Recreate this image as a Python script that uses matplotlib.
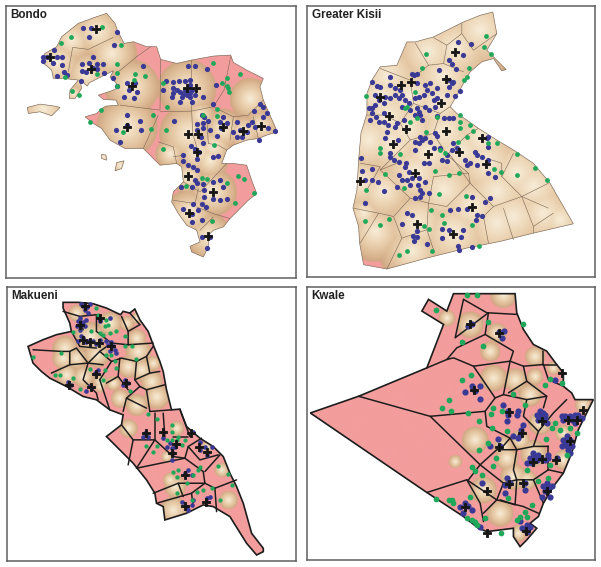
#!/usr/bin/env python3
# -*- coding: utf-8 -*-

import numpy as np
import matplotlib as mpl
mpl.use('Agg')
from matplotlib import pyplot as plt
from matplotlib.path import Path
from matplotlib.patches import PathPatch
from matplotlib.colors import LinearSegmentedColormap

plt.rcParams['font.family'] = ['Liberation Sans', 'DejaVu Sans']

bondo_shape = [[(320,40),(345,70),(352,90),(372,130),(400,125),(440,140),(470,140),(482,178),(530,190),(575,180),(640,168),(692,165),(700,187),(740,210),(790,235),(780,260),(790,300),(810,345),(832,395),(800,405),(775,415),(740,420),(700,435),(680,450),(665,490),(700,490),(740,495),(755,540),(770,580),(745,600),(720,625),(690,655),(670,680),(640,690),(625,705),(625,740),(610,770),(575,755),(570,738),(600,725),(590,690),(560,675),(535,640),(515,605),(520,575),(550,545),(545,500),(530,490),(480,495),(430,445),(375,445),(330,420),(305,385),(280,370),(255,350),(290,340),(305,325),(318,318),(355,315),(348,300),(310,298),(295,285),(335,272),(358,262),(345,245),(330,232),(340,212),(300,232),(268,248),(262,258),(240,240),(245,265),(225,295),(208,295),(210,270),(235,240),(190,235),(160,235),(155,210),(125,185),(135,160),(170,140),(185,110),(235,70),(290,50)],
               [(82,322),(120,312),(165,318),(180,322),(155,347),(120,335),(85,340)],
               [(305,462),(318,465),(320,480),(305,475)],
               [(350,487),(372,482),(365,505),(345,512)]]
bondo_cells = [[(340,112),(265,148),(218,142),(205,215)],[(452,140),(410,170),(355,215)],[(482,178),(480,330),(360,315)],
               [(480,335),(575,333),(640,320),(672,270),(692,170)],[(575,180),(575,333),(578,400),(590,440)],[(475,345),(430,445)],
               [(475,425),(520,440),(530,490)],[(640,320),(700,350),(745,345),(790,300)],[(700,350),(690,420)],[(760,350),(775,415)],
               [(625,430),(655,435),(680,450)],[(625,430),(620,350)],[(550,545),(600,575),(680,490)],[(595,565),(585,610),(520,600)],
               [(590,620),(640,640),(690,655)],[(600,690),(640,650)],[(520,470),(550,465)]]
bondo_glow = [(170,185,80),(215,120,70),(290,95,85),(335,160,75),(260,220,70),(395,260,82),(560,265,88),(380,380,92),(565,400,88),(668,385,60),(730,395,50),
              (750,295,62),(783,377,50),(590,456,65),(640,440,55),(510,460,45),(563,530,50),(638,576,72),(567,637,70),(625,708,70),(630,480,55),
              (130,325,80),(360,495,30),(310,470,20),(220,280,30),(600,345,45)]
bondo_blue = [(248,83),(272,83),(268,110),(350,97),(343,135),(280,172),(161,150),(172,170),(186,170),(130,170),(128,182),(140,172),(160,188),(185,195),(192,217),(200,225),(170,228),(245,192),(245,212),(268,190),(290,193),(310,193),(258,215),(290,208),(312,218),(280,205),(242,242),(340,235),(352,258),
              (430,197),(380,250),(405,248),(388,270),(412,275),(372,292),(403,295),(380,345),(420,362),(422,390),(348,390),(360,425),(380,375),
              (565,198),(585,198),(620,208),(497,243),(520,245),(538,243),(555,243),(570,240),(490,270),(520,265),(530,270),(520,280),(540,275),(555,270),(570,255),(575,270),(515,290),(545,290),(560,285),(570,290),(585,285),(575,305),(610,290),(540,307),(570,280),(550,283),(565,275),(648,255),(640,312),(522,362),
              (668,352),(660,365),(680,370),(662,385),(605,345),(612,350),(592,372),(610,368),(625,362),(610,385),(590,390),(602,410),(652,408),(630,390),(712,365),(745,375),(698,397),(720,390),(712,412),(725,412),(740,395),(762,332),(780,312),(790,320),(800,338),(790,352),(755,367),(765,380),(805,385),(825,393),(777,420),
              (572,437),(585,445),(598,455),(610,428),(590,475),(550,465),(548,482),(565,495),(580,500),(590,510),(640,470),(655,468),(542,560),(575,560),(590,548),(585,540),(610,550),(612,570),(640,545),(660,540),(668,560),(612,590),(640,597),(660,600),(682,595),(605,610),(618,620),(578,610),(595,628),(550,625),(575,640),(575,665),(607,658),(622,742),(605,710),(630,710)]
bondo_green = [(305,80),(183,128),(212,112),(363,135),(350,193),(350,218),(405,222),(435,228),(403,240),(290,222),(195,232),(215,273),(238,285),(352,258),(640,188),(682,235),(665,250),(720,223),(488,250),(680,258),(685,265),(688,275),(500,320),(303,330),(270,367),(458,345),(452,388),(498,390),(368,395),(490,447),(652,328),(652,348),(608,345),(642,433),(713,528),(733,535),(682,548),(763,578),(705,608),(637,663),(605,532),(620,537),(557,558)]
bondo_cross = [(288,87),(150,172),(272,207),(395,258),(562,263),(588,263),(380,380),(563,403),(595,403),(668,380),(730,393),(783,377),(590,456),(563,528),(638,576),(567,637),(625,708)]

kisii_shape = [[(578,35),(590,100),(560,150),(618,208),(605,212),(580,175),(545,185),(510,215),(490,250),(465,295),(450,320),(470,340),(500,360),(535,385),(590,420),(640,450),(700,490),(750,550),(820,672),(700,700),(600,725),(500,745),(380,775),(260,808),(190,795),(178,730),(175,680),(158,625),(170,570),(175,480),(182,400),(200,340),(200,280),(215,240),(240,200),(290,195),(320,125),(345,125),(400,110),(490,65),(540,45)]]
kisii_cells = [[(485,70),(485,100),(520,150),(590,100)],[(400,112),(440,135),(485,100)],[(440,135),(430,190),(490,215)],[(345,128),(385,195),(430,190)],
               [(240,205),(330,240),(385,195)],[(330,240),(340,310),(300,370),(255,345),(200,345)],[(340,310),(420,340),(450,320)],[(300,370),(330,420),(270,480),(240,510)],
               [(420,340),(400,400),(440,465)],[(330,420),(400,400)],[(180,490),(240,500),(200,570)],[(240,510),(290,490)],[(240,510),(330,595),(280,650),(235,640),(160,625)],
               [(235,640),(180,730)],[(280,650),(305,715),(260,808)],[(305,715),(380,690)],[(330,595),(385,610),(380,690),(400,750)],[(385,610),(440,620),(510,550),(450,465)],
               [(400,530),(385,610)],[(400,530),(505,520),(510,550)],[(510,550),(580,620),(550,650),(565,730)],[(580,620),(665,590),(700,680),(700,700)],[(700,680),(760,640)],
               [(610,625),(640,720)],[(665,590),(745,550)],[(665,590),(605,530),(640,460)],[(665,590),(745,625)],[(505,520),(440,465),(500,405),(535,385)],[(560,475),(605,490),(605,530)]]
kisii_glow = [(540,90,130),(465,145,130),(385,155,130),(430,230,130),(260,230,130),(330,290,130),(240,290,130),(420,310,130),(265,350,130),(205,420,130),(320,390,130),(435,395,130),(275,430,130),(385,460,130),(480,455,130),(545,415,130),(560,490,130),(345,518,130),(180,545,100),(250,575,100),(430,570,130),(515,620,130),(590,575,130),(650,520,130),(700,560,130),(640,650,130),(590,670,130),(730,640,120),(350,670,120),(225,695,92),(460,700,130),(335,755,100),(600,125,90),(780,660,90),(190,640,60)]
kisii_blue = [(475,125),(513,132),(490,165),(447,180),(455,190),(468,207),(415,210),(350,220),(335,222),(268,232),(215,247),(230,258),(240,262),(225,285),(235,300),(270,255),(285,265),(300,270),(285,285),(305,285),(295,295),(270,295),(255,290),(250,310),(225,315),(215,325),(207,323),(215,340),(210,360),(228,350),(235,365),(250,340),(250,365),(262,375),(285,380),(290,370),(310,360),(260,395),(253,415),(292,420),(268,460),(268,470),(280,480),(297,487),(317,490),(315,500),(325,515),(295,525),(305,540),(320,540),(335,535),(355,535),(375,545),(290,560),(330,555),(352,555),(358,570),(365,580),(345,595),(358,590),(386,580),(320,640),(335,645),(305,672),(350,695),(338,710),(350,712),(340,725),(380,732),(425,688),(445,690),(425,715),(450,630),(475,628),(500,628),(530,645),(545,648),(527,660),(555,605),(570,595),(515,590),(490,690),(482,712),(475,738),(478,752),(517,743),(183,475),(185,512),(215,508),(195,540),(215,540),(233,547),(250,573),(195,608),
              (340,225),(350,250),(375,255),(388,250),(410,265),(380,270),(395,280),(355,290),(345,295),(370,285),(400,300),(315,300),(325,310),(305,320),(330,330),(350,325),(375,320),(385,330),(405,320),(410,295),(440,285),(465,288),(480,272),(445,262),(455,250),(445,240),(460,245),(410,348),(355,335),(360,345),(365,360),(345,345),(430,355),(445,355),(460,355),(405,400),(410,407),(360,410),(375,415),(345,425),(355,430),(365,420),(345,450),(390,425),(400,445),(420,445),(425,480),(440,483),(385,490),(370,490),(440,465),(455,450),(460,430),(470,445),(525,455),(495,480),(500,495),(530,465),(545,470),(510,490),(530,495),(560,415),(565,410),(565,440),(565,480),(565,520),(585,530)]
kisii_green = [(378,162),(558,106),(552,140),(573,160),(365,203),(508,202),(500,232),(492,240),(198,288),(345,275),(320,322),(315,325),(330,365),(350,355),(480,345),(480,365),(480,385),(510,375),(520,392),(500,410),(475,427),(565,430),(590,430),(378,397),(410,350),(240,443),(240,460),(300,463),(420,450),(435,460),(652,463),(705,503),(740,540),(650,525),(603,517),(582,508),(405,513),(447,525),(477,520),(255,522),(198,570),(310,563),(415,582),(497,588),(393,630),(425,647),(432,670),(193,665),(240,675),(265,657),(515,675),(372,678),(385,688),(320,753),(296,765),(395,755),(537,740)]
kisii_cross = [(465,155),(437,236),(333,245),(303,256),(240,290),(422,310),(265,347),(317,388),(436,393),(277,432),(383,462),(478,456),(546,415),(558,492),(345,518),(180,543),(515,620),(350,673),(460,703)]

makueni_shape = [[(190,58),(235,58),(280,62),(320,75),(362,95),(370,85),(390,90),(405,78),(420,110),(445,145),(460,185),(480,235),(490,265),(500,320),(515,380),(540,378),(560,430),(600,465),(640,490),(670,520),(690,570),(710,610),(730,660),(755,750),(790,795),(790,805),(770,815),(740,780),(690,700),(640,670),(610,665),(560,690),(495,710),(490,670),(470,660),(465,630),(440,590),(400,540),(320,460),(365,425),(370,395),(330,380),(290,350),(250,340),(200,310),(150,285),(125,265),(100,240),(85,190),(130,170),(170,155),(215,145),(210,120),(190,75)]]
makueni_cells = [[(100,200),(185,205),(210,205),(230,195),(265,240)],[(210,205),(210,245),(155,270)],[(210,245),(265,240),(310,245)],[(265,240),(250,290),(290,330),(295,350)],
                 [(300,290),(330,380)],[(300,290),(335,235),(365,225),(410,235),(405,290),(420,310),(380,345),(370,385)],[(380,345),(440,375)],[(440,320),(495,305)],[(440,320),(450,385)],
                 [(420,310),(440,320)],[(405,290),(450,270),(480,265)],[(450,270),(440,220),(460,190)],[(410,235),(440,220)],[(385,185),(460,180)],[(385,185),(385,145),(420,125)],[(365,100),(385,145)],[(390,90),(420,125)],
                 [(360,225),(355,280),(320,300)],[(355,280),(385,320)],[(300,205),(335,235)],[(240,190),(290,195)],[(335,180),(300,205),(265,240)],[(240,100),(250,140)],[(190,85),(240,100),(290,95),(290,145)],[(215,145),(240,190)],[(290,145),(335,180),(385,185)],
                 [(450,385),(515,380)],[(465,390),(465,470)],[(490,390),(495,460)],[(365,425),(400,470),(385,545)],[(400,470),(465,470),(410,555)],[(410,555),(555,525)],[(465,470),(520,520),(555,525),(610,565),(615,600),(535,600),(460,630)],
                 [(535,600),(550,640)],[(470,660),(575,630),(615,600)],[(575,630),(580,670)],[(615,600),(645,615),(650,685)],[(645,615),(710,590)],[(615,565),(660,515)],[(555,525),(565,490),(600,530),(655,515)],[(565,490),(605,465)],[(540,378),(570,460)],[(520,460),(565,460)]]
makueni_glow = [(195,195,38),(190,225,33),(230,225,33),(290,215,38),(200,275,33),(250,280,33),(385,250,33),(425,260,33),(455,295,33),(470,340,38),(360,345,28),(410,365,33),(415,205,38),(410,165,28),(380,120,22),(410,105,17),(230,90,25),(270,160,45),(330,120,35),(385,435,28),(530,435,22),(500,520,17),(665,560,22),(685,650,28),(525,610,33),(510,590,22),(520,680,40),(300,310,17),(300,295,22),(340,300,22),(460,240,22),(620,490,17)]
makueni_blue = [(245,62),(270,62),(255,80),(235,115),(245,125),(240,140),(260,110),(255,130),(265,90),(300,110),(330,105),(300,115),(235,175),(250,165),(265,175),(280,175),(300,170),(320,175),(340,190),(350,210),(330,205),(205,298),(215,305),(260,325),(270,310),(285,270),(295,260),(375,290),(385,300),(370,305),(435,448),(445,460),(430,460),(490,465),(510,480),(515,495),(500,490),(525,490),(515,530),(520,510),(580,445),(600,475),(615,490),(635,490),(600,500),(620,515),(555,570),(575,575),(565,560),(545,655),(560,670),(575,665),(565,680),(620,645),(630,640),(580,650),
                (250,70),(262,72),(240,105),(250,118),(232,128),(245,160),(258,178),(290,182),(325,185),(335,178),(345,200)]
makueni_green = [(100,222),(185,210),(165,275),(182,275),(220,285),(240,318),(270,258),(315,260),(350,255),(310,290),(290,75),(295,95),(320,110),(325,125),(315,130),(300,150),(310,155),(330,150),(350,145),(375,160),(275,145),(220,148),(375,190),(398,190),(410,228),(320,215),(335,215),(345,235),(390,325),(445,392),(470,407),(515,425),(515,445),(440,488),(470,487),(460,505),(500,470),(515,470),(535,460),(545,485),(530,470),(555,470),(535,560),(520,565),(530,580),(600,550),(580,575),(595,560),(560,600),(590,625),(530,628),(610,620),(635,615),(575,650),(660,650),(655,548),(685,572),(695,605)]
makueni_cross = [(255,68),(300,105),(240,125),(250,172),(270,178),(298,180),(335,188),(290,273),(380,300),(275,313),(207,307),(438,450),(490,445),(572,450),(527,482),(515,510),(598,492),(620,507),(555,575),(555,668),(618,657)]

kwale_shape = [[(460,33),(645,33),(650,90),(670,140),(700,185),(740,205),(770,245),(790,270),(790,310),(815,330),(825,350),(880,350),(855,400),(835,440),(815,510),(790,570),(760,610),(730,660),(715,700),(690,720),(710,735),(680,770),(660,790),(640,760),(640,735),(600,740),(560,745),(535,735),(490,700),(380,628),(30,390),(175,340),(380,255),(430,125),(365,85),(385,50),(440,85)]]
kwale_cells = [[(490,50),(465,165),(565,90)],[(490,50),(560,90),(650,95)],[(565,90),(555,155),(470,195),(440,230),(380,255)],[(440,230),(460,225),(520,250),(630,235),(640,205),(555,155)],[(630,235),(670,250),(730,245)],[(730,205),(730,245),(770,245)],
               [(520,250),(585,345),(555,385),(560,430),(630,465),(650,500),(590,500),(540,545)],[(630,235),(610,335),(585,345)],[(610,335),(680,350),(740,340)],[(670,250),(680,295),(625,330)],[(680,295),(740,340),(730,375)],
               [(175,340),(390,400),(555,385)],[(390,400),(540,545),(610,600),(590,650),(500,590),(380,628)],[(500,590),(540,660),(550,715)],[(550,690),(590,650)],[(540,545),(505,590)],
               [(610,600),(650,590),(700,590),(730,660)],[(650,590),(645,665),(600,650)],[(630,465),(600,500)],[(650,500),(700,490),(745,490)],[(700,490),(715,445),(760,390),(800,350)],[(680,350),(670,400),(715,445)],[(590,650),(670,670),(715,690)],[(650,500),(640,560),(650,590)],[(700,590),(745,560),(790,570)],[(730,245),(745,290),(790,310)],[(745,490),(745,560)]]
kwale_glow = [(440,105,25),(510,125,40),(610,35,40),(570,205,30),(580,285,40),(645,290,35),(690,335,35),(705,220,30),(705,280,25),(525,470,40),(465,535,20),(600,690,40),(590,150,30),(550,620,40),(720,420,35),(660,470,30),(610,490,30),(620,525,35),(700,510,40),(640,580,40),(680,590,30),(760,255,20),(850,365,25),(655,750,25),(790,530,30),(790,450,25)]
kwale_blue = [(503,130),(515,125),(598,148),(612,145),(605,165),(515,310),(540,310),(495,327),(525,325),(540,348),(610,365),(625,385),(655,385),(625,395),(650,395),(622,413),(670,425),(662,440),(640,458),(655,465),(660,455),(595,468),(570,490),(600,490),(765,292),(720,385),(730,390),(710,395),(720,405),(740,420),(735,405),(785,400),(790,410),(810,400),(825,395),(835,405),(825,420),(845,405),(800,460),(810,470),(795,480),(815,490),(800,490),(785,490),(810,510),(745,515),(735,530),(700,510),(715,515),(690,525),(680,540),(700,530),(720,525),(770,525),(620,585),(630,600),(615,605),(615,630),(675,600),(675,620),(740,610),(755,610),(735,625),(725,640),(750,640),(545,600),(480,672),(495,660),(505,668),(515,680),(490,690),(660,712),(680,725),(690,730),(665,735),(680,745),(540,732),
              (720,395),(715,410),(735,395),(795,400),(815,410),(835,395),(800,470),(790,470),(805,500),(695,540),(710,530),(705,520),(745,525),(740,600),(745,620),(730,610)]
kwale_green = [(500,38),(530,38),(407,83),(565,118),(670,125),(485,177),(548,190),(513,275),(485,292),(750,287),(735,305),(785,300),(640,333),(447,350),(425,375),(453,385),(503,390),(580,375),(573,393),(605,385),(675,365),(537,415),(575,435),(620,443),(738,467),(765,420),(755,435),(810,435),(830,450),(780,440),(565,480),(538,502),(588,525),(580,550),(515,553),(525,565),(750,545),(680,560),(800,515),(745,585),(715,595),(625,645),(510,640),(408,648),(445,650),(455,650),(460,660),(695,665),(675,685),(680,700),(650,710),(660,700),(555,705),(500,705),(515,710),(525,715),(530,725),(603,748),(545,575)]
kwale_cross = [(510,125),(598,152),(523,320),(628,388),(787,270),(850,382),(727,413),(665,450),(810,475),(597,492),(700,538),(725,527),(768,530),(627,603),(670,600),(560,625),(740,625),(495,672),(677,742),(560,750),(830,410),(805,410)]

panel_names = ['Bondo', 'Greater Kisii', 'Makueni', 'Kwale']

W, H = 601, 567
PINK = '#f39d9d'
BLUE = '#3a3a96'
GREEN = '#1fa85a'

tan_map = LinearSegmentedColormap.from_list('tan', [(0., '#f7ecd8'), (0.35, '#edd6b6'), (0.7, '#dfbe99'), (1., '#cfa681')])
tan_map.set_over(PINK)


def draw_panel(box, frame, name, shape, cells, glow, blue, green, cross, lw, edge, dot):
    # box is the axes rectangle in pixels, frame the same in the 1/3 unit of the crop
    x0, y0, x1, y1 = box
    ax = plt.gcf().add_axes([x0/W, 1-y1/H, (x1-x0)/W, (y1-y0)/H])
    ax.set_xlim(frame[0], frame[2])
    ax.set_ylim(frame[3], frame[1])
    ax.set_xticks([])
    ax.set_yticks([])
    for s in ax.spines.values():
        s.set_color('#5f5f5f')
        s.set_linewidth(1.1)

    xs = np.arange(frame[0], frame[2], 2.)
    ys = np.arange(frame[1], frame[3], 2.)
    gx, gy = np.meshgrid(xs, ys)
    g = np.array(glow, dtype=float)
    dist = np.sqrt((gx[..., None]-g[:, 0])**2 + (gy[..., None]-g[:, 1])**2)/g[:, 2]
    field = dist.min(axis=2)

    paths = [Path(np.array(p+[p[0]], dtype=float), closed=True) for p in shape]
    compound = Path.make_compound_path(*paths)
    patch = PathPatch(compound, facecolor='none', edgecolor=edge, lw=lw, zorder=3)
    im = ax.imshow(field, cmap=tan_map, vmin=0., vmax=1., origin='upper', aspect='auto',
                   extent=(frame[0], frame[2], frame[3], frame[1]), interpolation='bilinear', zorder=1)
    ax.add_patch(patch)
    im.set_clip_path(patch)

    for c in cells:
        c = np.array(c)
        ax.plot(c[:, 0], c[:, 1], color=edge, lw=lw*0.9, zorder=2, solid_capstyle='round')

    ax.scatter(*np.array(blue).T, s=dot, color=BLUE, lw=0, zorder=4)
    ax.scatter(*np.array(green).T, s=dot*0.85, color=GREEN, lw=0, zorder=5)
    ax.scatter(*np.array(cross).T, s=40, marker='P', color='#151515', edgecolors='#151515', lw=0.6, zorder=6)
    ax.set_xlim(frame[0], frame[2])
    ax.set_ylim(frame[3], frame[1])
    ax.text(frame[0]+14, frame[1]+27, name, fontsize=8.4, fontweight='bold', color='#222222', va='center', zorder=7)


def main():
    plt.figure(figsize=(W/100., H/100.), dpi=100, facecolor='white')
    thin = '#7a6654'
    draw_panel((6, 6, 296, 278), (18, 18, 888, 833), panel_names[0], bondo_shape, bondo_cells, bondo_glow,
               bondo_blue, bondo_green, bondo_cross, 0.45, thin, 14)
    draw_panel((307, 6, 595, 277), (20, 17, 885, 832), panel_names[1], kisii_shape, kisii_cells, kisii_glow,
               kisii_blue, kisii_green, kisii_cross, 0.45, thin, 14)
    draw_panel((7, 287, 296, 561), (22, 12, 888, 833), panel_names[2], makueni_shape, makueni_cells, makueni_glow,
               makueni_blue, makueni_green, makueni_cross, 1.2, '#1c1c1c', 11)
    draw_panel((307, 287, 595, 560), (20, 13, 885, 830), panel_names[3], kwale_shape, kwale_cells, kwale_glow,
               kwale_blue, kwale_green, kwale_cross, 1.2, '#1c1c1c', 20)
    plt.savefig('out.png', dpi=100)
    return


if __name__ == "__main__":
    main()
